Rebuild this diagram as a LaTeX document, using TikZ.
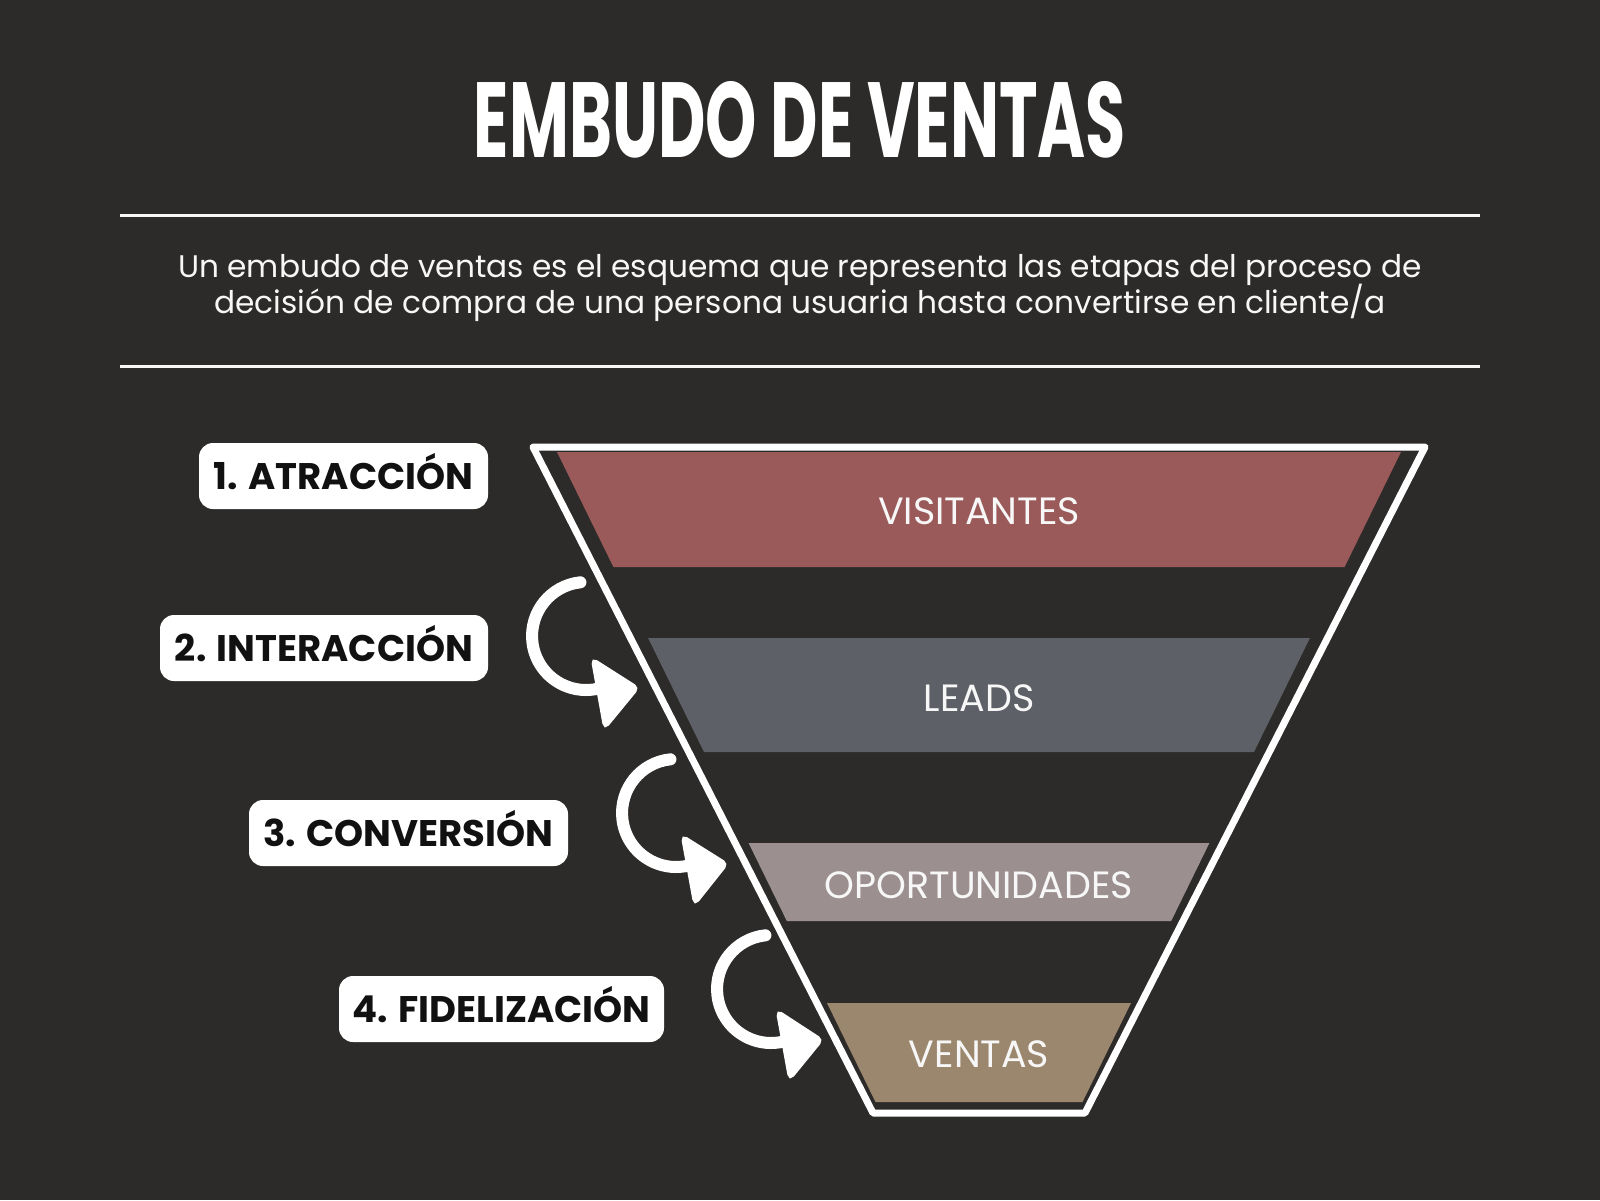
\documentclass[tikz,border=0pt]{standalone}
\usepackage{fontspec}
\setmainfont{Poppins}
\usepackage{graphicx}
\definecolor{bg}{HTML}{2D2B29}
\definecolor{bandA}{HTML}{9B5A5A}
\definecolor{bandB}{HTML}{5D6066}
\definecolor{bandC}{HTML}{9B8F8F}
\definecolor{bandD}{HTML}{9B876D}
\definecolor{ink}{HTML}{111111}
\definecolor{paper}{HTML}{F7F7F7}
\tikzset{
  rule/.style={draw=paper, line width=1.5pt},
  funnel/.style={draw=white, line width=3.5pt, line join=round},
  bandtext/.style={text=paper, font=\fontsize{19}{21}\selectfont, inner sep=0pt, text height=13.3pt, text depth=0pt},
  stagebox/.style={fill=white, rounded corners=7pt, text=ink, inner sep=0pt,
     font=\fontsize{18.5}{22}\selectfont\bfseries, text height=13pt, text depth=0pt},
  arrowline/.style={draw=white, line width=6pt, line cap=round},
  arrowhead/.style={fill=white, draw=white, line width=2pt, rounded corners=2pt},
  subtext/.style={text=paper, font=\fontsize{15.6}{18}\selectfont, inner sep=0pt, anchor=base}
}
\begin{document}
\begin{tikzpicture}[x=0.5pt, y=-0.5pt]
\useasboundingbox (0,0) rectangle (1600,1200);
\fill[bg] (0,0) rectangle (1600,1200);

% title
\node[inner sep=0pt, text=white] (title) at (800,120) {\resizebox{326pt}{38pt}{\bfseries EMBUDO DE VENTAS}};

% rules and subtitle
\coordinate (r1a) at (120,215); \coordinate (r1b) at (1480,215);
\coordinate (r2a) at (120,366); \coordinate (r2b) at (1480,366);
\draw[rule] (r1a) -- (r1b);
\draw[rule] (r2a) -- (r2b);
\node[subtext] (sub1) at (800,277) {Un embudo de ventas es el esquema que representa las etapas del proceso de};
\node[subtext] (sub2) at (800,313) {decisión de compra de una persona usuaria hasta convertirse en cliente/a};

% bands
\fill[bandA] (557,452) -- (1401,452) -- (1344.6,567) -- (613.4,567) -- cycle;
\fill[bandB] (648.1,638) -- (1309.9,638) -- (1254,752) -- (704,752) -- cycle;
\fill[bandC] (748.6,843) -- (1209.4,843) -- (1171.2,921) -- (786.8,921) -- cycle;
\fill[bandD] (827,1003) -- (1131,1003) -- (1082.5,1102) -- (875.5,1102) -- cycle;

% funnel outline
\coordinate (ftl) at (533,447); \coordinate (ftr) at (1425,447);
\coordinate (fbr) at (1085,1113); \coordinate (fbl) at (873,1113);
\draw[funnel] (ftl) -- (ftr) -- (fbr) -- (fbl) -- cycle;

% band labels
\node[bandtext] (visitantes) at (979,511) {VISITANTES};
\node[bandtext] (leads) at (979,698) {LEADS};
\node[bandtext] (oport) at (979,885) {OPORTUNIDADES};
\node[bandtext] (ventas) at (979,1054) {VENTAS};

% stage labels
\node[stagebox, minimum width=144.5pt, minimum height=33pt] (s1) at (343.5,476) {1. ATRACCIÓN};
\node[stagebox, minimum width=164pt, minimum height=33pt] (s2) at (324,648) {2. INTERACCIÓN};
\node[stagebox, minimum width=159.5pt, minimum height=33pt] (s3) at (408.5,833) {3. CONVERSIÓN};
\node[stagebox, minimum width=162.5pt, minimum height=33pt] (s4) at (501.5,1009) {4. FIDELIZACIÓN};

% curved arrows
\draw[arrowline] (580.4,582.3) arc[start angle=-96, end angle=-283, radius=54];
\filldraw[arrowhead] (593,660) -- (637,688) -- (605,727) -- cycle;
\draw[arrowline] (670.4,759.3) arc[start angle=-96, end angle=-283, radius=54];
\filldraw[arrowhead] (683,837) -- (726,864) -- (695,903) -- cycle;
\draw[arrowline] (765.4,935.3) arc[start angle=-96, end angle=-283, radius=54];
\filldraw[arrowhead] (778,1012) -- (821,1040) -- (790,1078) -- cycle;
\end{tikzpicture}
\end{document}
